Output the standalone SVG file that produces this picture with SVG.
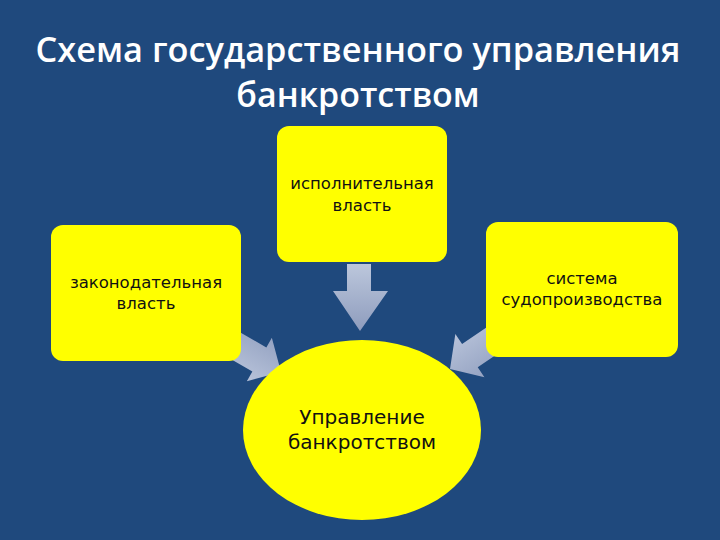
<svg xmlns="http://www.w3.org/2000/svg" width="720" height="540" viewBox="0 0 720 540">
<defs>
<linearGradient id="ag" x1="0" y1="0" x2="0" y2="1">
<stop offset="0" stop-color="#BCC7DC"/>
<stop offset="1" stop-color="#8E9CBD"/>
</linearGradient>
<linearGradient id="ag2" x1="0" y1="0" x2="1" y2="0">
<stop offset="0" stop-color="#B8C3DA"/>
<stop offset="1" stop-color="#95A3C2"/>
</linearGradient>
<style>
.title{font-family:"Open Sans","Noto Sans",sans-serif;font-weight:600;fill:#FFFFFF;font-size:34px;text-anchor:middle}
.box{fill:#FFFF00}
.lbl{font-family:"DejaVu Sans","Noto Sans",sans-serif;font-size:16.5px;fill:#111111;text-anchor:middle}
.big{font-family:"DejaVu Sans","Noto Sans",sans-serif;font-size:20px;fill:#111111;text-anchor:middle}
.arr{fill:url(#ag)}
.arr2{fill:url(#ag2)}
</style>
</defs>
<rect x="0" y="0" width="720" height="540" fill="#1F497D"/>
<g id="title">
<text class="title" x="358" y="62" textLength="645" lengthAdjust="spacingAndGlyphs">Схема государственного управления</text>
<text class="title" x="358" y="107">банкротством</text>
</g>
<g id="connectors">
<path class="arr" d="M347,264 L371,264 L371,291 L388,291 L360,331 L333,291 L347,291 Z"/>
<path class="arr2" transform="translate(281,372) rotate(-60)" d="M0,0 L-25,-25 L-14,-25 L-14,-60 L14,-60 L14,-25 L25,-25 Z"/>
<path class="arr2" transform="translate(450,369) rotate(56)" d="M0,0 L-26,-24 L-14,-24 L-14,-60 L14,-60 L14,-24 L26,-24 Z"/>
</g>
<g id="exec">
<rect class="box" x="277" y="126" width="170" height="136" rx="12"/>
<text class="lbl" x="362" y="189">исполнительная</text>
<text class="lbl" x="362" y="211">власть</text>
</g>
<g id="legis">
<rect class="box" x="51" y="225" width="190" height="136" rx="12"/>
<text class="lbl" x="146" y="288">законодательная</text>
<text class="lbl" x="146" y="309">власть</text>
</g>
<g id="judic">
<rect class="box" x="486" y="222" width="192" height="135" rx="12"/>
<text class="lbl" x="582" y="284">система</text>
<text class="lbl" x="582" y="305">судопроизводства</text>
</g>
<g id="center">
<ellipse class="box" cx="362" cy="430" rx="119" ry="90"/>
<text class="big" x="362" y="424">Управление</text>
<text class="big" x="362" y="449">банкротством</text>
</g>
</svg>
